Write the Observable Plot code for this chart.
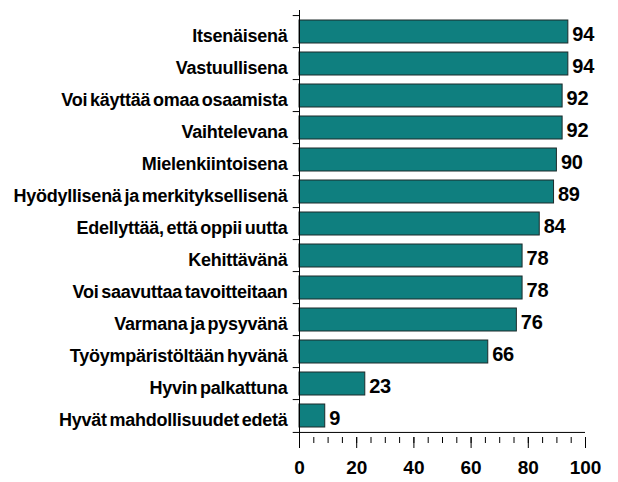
<!DOCTYPE html>
<html>
<head>
<meta charset="utf-8">
<script src="https://cdn.jsdelivr.net/npm/d3@7"></script>
<script src="https://cdn.jsdelivr.net/npm/@observablehq/plot@0.6"></script>
<style>
  body { margin: 0; background: #fff; }
  svg { font-family: "Liberation Sans", Arial, sans-serif; }
  .ylab text { letter-spacing: -0.25px; word-spacing: -2px; }
  .vals text { letter-spacing: -0.3px; }
</style>
</head>
<body>
<div id="chart"></div>
<script>
const categories = [
  "Itsenäisenä",
  "Vastuullisena",
  "Voi käyttää omaa osaamista",
  "Vaihtelevana",
  "Mielenkiintoisena",
  "Hyödyllisenä ja merkityksellisenä",
  "Edellyttää, että oppii uutta",
  "Kehittävänä",
  "Voi saavuttaa tavoitteitaan",
  "Varmana ja pysyvänä",
  "Työympäristöltään hyvänä",
  "Hyvin palkattuna",
  "Hyvät mahdollisuudet edetä"
];
const values = [94, 94, 92, 92, 90, 89, 84, 78, 78, 76, 66, 23, 9];
const xTicks = [0, 20, 40, 60, 80, 100];
const xMinorTicks = d3.range(0, 101, 5);

const data = categories.map((c, i) => ({category: c, value: values[i]}));
const last = categories[categories.length - 1];
const step = (437 - 10) / categories.length;

const chart = Plot.plot({
  width: 618,
  height: 482,
  marginLeft: 299,
  marginRight: 33,
  marginTop: 10,
  marginBottom: 45,
  style: {fontFamily: "Liberation Sans, Arial, sans-serif", color: "#000", background: "#fff"},
  x: {domain: [0, 100]},
  y: {domain: categories, paddingInner: 0.27, paddingOuter: 0.135},
  marks: [
    Plot.barX(data, {x: "value", y: "category", fill: "#0f7f7f", stroke: "#1c2b2b", strokeWidth: 1}),
    Plot.text(data, {x: "value", y: "category", text: d => String(d.value), textAnchor: "start", dx: 4, dy: 3, fontSize: 20, fontWeight: "bold", fill: "#000", className: "vals"}),
    Plot.ruleX([0], {stroke: "#000", strokeWidth: 1}),
    Plot.ruleY(categories, {y: d => d, x1: -2.2, x2: 0, dy: -step / 2, stroke: "#000"}),
    Plot.ruleY([last], {y: d => d, x1: -2.2, x2: 100, dy: step / 2, stroke: "#000"}),
    Plot.axisY({tickSize: 0, tickPadding: 12, fontSize: 18, fontWeight: "bold", dy: 4, fill: "#000", label: null, className: "ylab"}),
    Plot.axisX({ticks: xMinorTicks, tickSize: 6, text: null, label: null, stroke: "#000"}),
    Plot.axisX({ticks: xTicks, tickSize: 11, tickPadding: 12, fontSize: 19, fontWeight: "bold", fill: "#000", label: null, stroke: "#000"})
  ]
});
document.getElementById("chart").appendChild(chart);
</script>
</body>
</html>
